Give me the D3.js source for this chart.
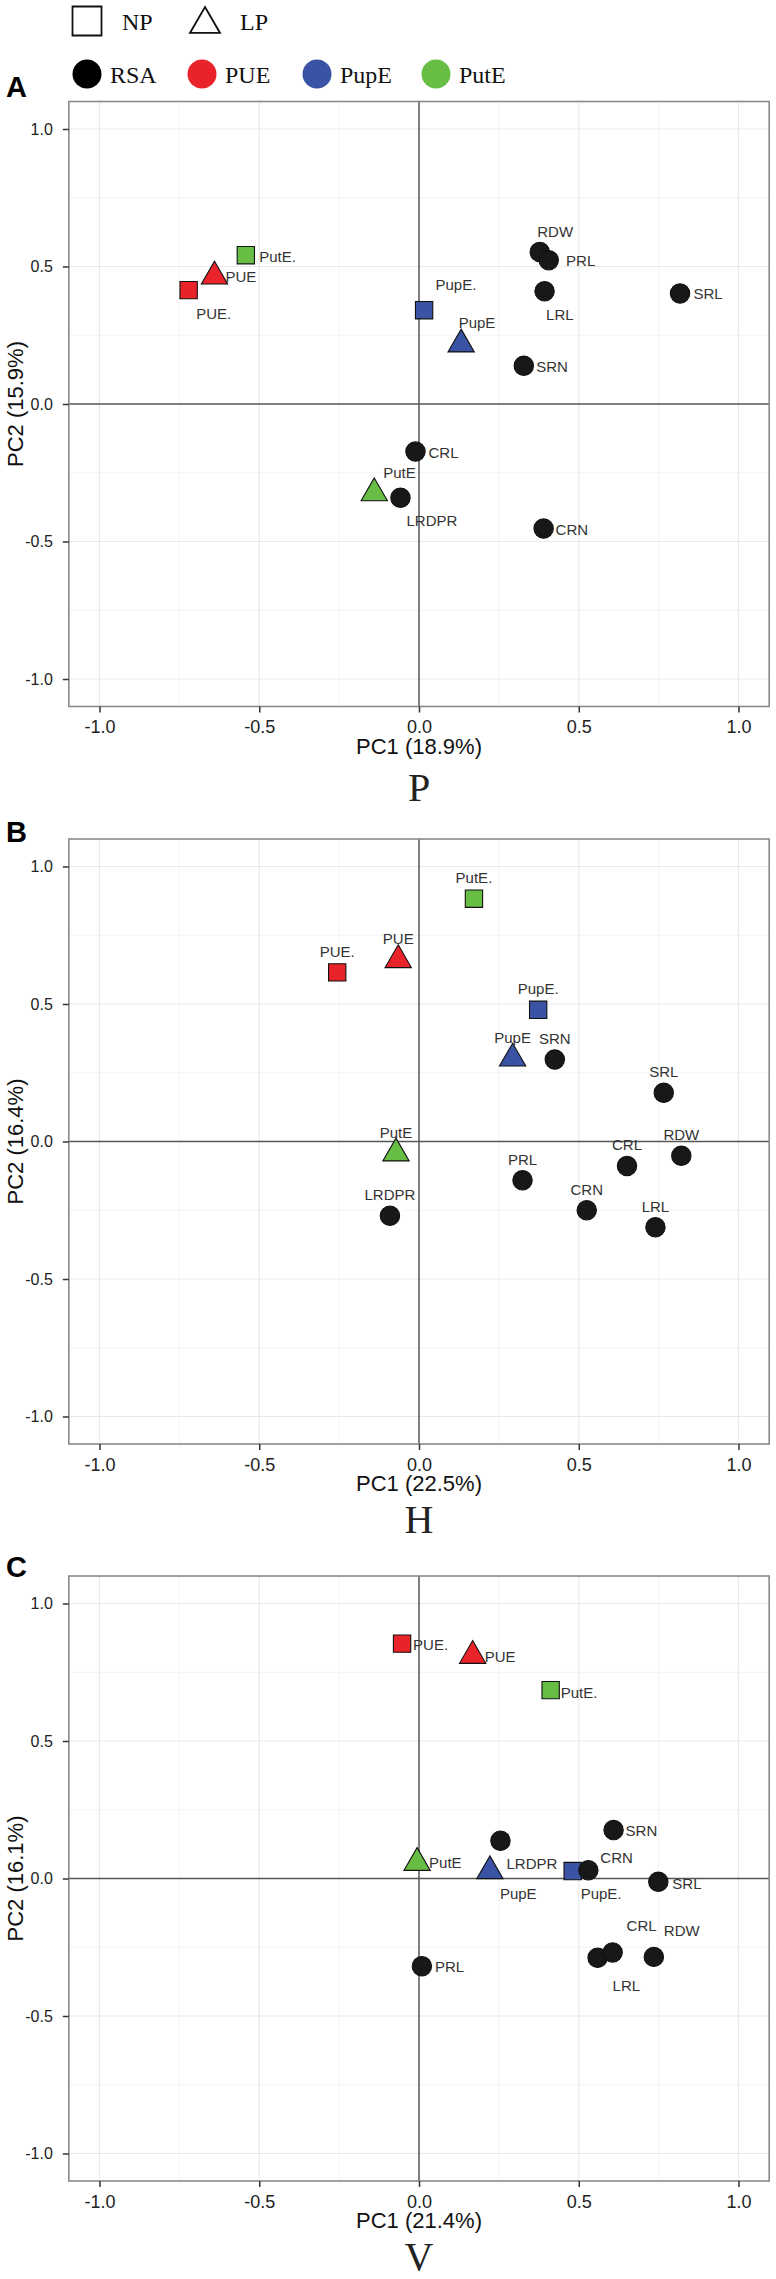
<!DOCTYPE html>
<html>
<head>
<meta charset="utf-8">
<script src="https://cdn.jsdelivr.net/npm/d3@7"></script>
<style>
  body { margin: 0; background: #fff; }
  svg text { font-family: "Liberation Sans", Arial, sans-serif; }
</style>
</head>
<body>
<div id="container"></div>
<script>
/* CONSTANTS AND GLOBALS */
const width = 776, height = 2279;

/* DATA */
// points, in drawing order (NP squares, LP triangles, RSA circles)
const pointNames = ["PUE.", "PupE.", "PutE.", "PUE", "PupE", "PutE",
  "RDW", "PRL", "LRL", "SRL", "SRN", "CRL", "CRN", "LRDPR"];
const pointGroups = ["PUE", "PupE", "PutE", "PUE", "PupE", "PutE",
  "RSA", "RSA", "RSA", "RSA", "RSA", "RSA", "RSA", "RSA"];
const pointTypes = ["NP", "NP", "NP", "LP", "LP", "LP",
  "RSA", "RSA", "RSA", "RSA", "RSA", "RSA", "RSA", "RSA"];

// panel P
const pc1P = [-0.721, 0.016, -0.542, -0.640, 0.132, -0.140, 0.378, 0.406, 0.393, 0.817, 0.328, -0.011, 0.390, -0.058];
const pc2P = [0.414, 0.341, 0.541, 0.464, 0.217, -0.324, 0.553, 0.523, 0.410, 0.402, 0.139, -0.173, -0.453, -0.341];
// panel H
const pc1H = [-0.256, 0.373, 0.172, -0.065, 0.293, -0.072, 0.821, 0.324, 0.740, 0.766, 0.425, 0.651, 0.525, -0.091];
const pc2H = [0.615, 0.479, 0.883, 0.660, 0.302, -0.043, -0.052, -0.141, -0.312, 0.177, 0.298, -0.089, -0.250, -0.270];
// panel V
const pc1V = [-0.053, 0.481, 0.412, 0.168, 0.222, -0.006, 0.735, 0.009, 0.559, 0.749, 0.609, 0.606, 0.530, 0.255];
const pc2V = [0.854, 0.027, 0.685, 0.810, 0.027, 0.057, -0.285, -0.319, -0.288, -0.012, 0.176, -0.269, 0.030, 0.137];

const panelLetters = ["A", "B", "C"];
const panelNames = ["P", "H", "V"];
const pc1Titles = ["PC1 (18.9%)", "PC1 (22.5%)", "PC1 (21.4%)"];
const pc2Titles = ["PC2 (15.9%)", "PC2 (16.4%)", "PC2 (16.1%)"];
const tickValues = [-1, -0.5, 0, 0.5, 1];
const minorValues = [-0.75, -0.25, 0.25, 0.75];

const legendTypes = ["NP", "LP"];
const legendGroups = ["RSA", "PUE", "PupE", "PutE"];

/* LAYOUT */
const panelTop = [101.5, 839, 1576];
const letterBaseline = [97, 842, 1577];
const nameOffset = [94, 89, 88.5];
const panelHeight = 605;
// label placement: [anchor, dx, dy of text centre] per point
const labelNudge = {
  P: [["start", 7.5, 23], ["start", 11.4, -26], ["start", 13.4, 1.7], ["start", 11, 0],
      ["start", -2.5, -21.7], ["start", 9, -21], ["start", -2.5, -20.7], ["start", 17.4, 0.7],
      ["start", 1.5, 23], ["start", 13.4, 0], ["start", 12.4, 1], ["start", 13, 1.3],
      ["start", 12, 0.7], ["start", 6, 22.7]],
  H: pointNames.map(() => ["middle", 0, -21]),
  V: [["start", 11, 1], ["start", 8, 23], ["start", 10, 2], ["start", 12, 1],
      ["start", 10, 23], ["start", 12, 0], ["start", 10, -26.7], ["start", 13, 0],
      ["start", 15, 28], ["start", 14, 2], ["start", 12, 0], ["start", 14, -27.3],
      ["start", 12, -13], ["start", 6, 23]]
};
const legendRow1X = [87, 205];
const legendRow2X = [87, 202, 317, 436];

/* SCALES */
const xScale = d3.scaleLinear()
  .domain([-1, 1])
  .range([99.5, 738.5]);

const colorScale = d3.scaleOrdinal()
  .domain(["RSA", "PUE", "PupE", "PutE"])
  .range(["#181818", "#e8242a", "#3a53a4", "#68bd45"]);

const shapeScale = d3.scaleOrdinal()
  .domain(["NP", "LP", "RSA"])
  .range([d3.symbolSquare, d3.symbolTriangle, d3.symbolCircle]);

const sizeScale = d3.scaleOrdinal()
  .domain(["NP", "LP", "RSA"])
  .range([300, 300, 295]);

/* HTML ELEMENTS */
const svg = d3.select("#container")
  .append("svg")
  .attr("width", width)
  .attr("height", height)
  .style("background-color", "#fff");

// legend
const legend = svg.append("g").attr("class", "legend");

legend.selectAll(".leg-shape")
  .data(legendTypes)
  .join("path")
  .attr("class", "leg-shape")
  .attr("transform", (d, i) => `translate(${legendRow1X[i]},${d === "LP" ? 24.3 : 21})`)
  .attr("d", d => d3.symbol().type(shapeScale(d)).size(d === "LP" ? 390 : 840)())
  .attr("fill", "#fff")
  .attr("stroke", "#111")
  .attr("stroke-width", 1.8);

legend.selectAll(".leg-shape-text")
  .data(legendTypes)
  .join("text")
  .attr("class", "leg-shape-text")
  .attr("x", (d, i) => legendRow1X[i] + 35)
  .attr("y", 30)
  .style("font-family", "'Liberation Serif', 'Times New Roman', serif")
  .style("font-size", "24px")
  .attr("fill", "#111")
  .text(d => d);

legend.selectAll(".leg-dot")
  .data(legendGroups)
  .join("circle")
  .attr("class", "leg-dot")
  .attr("cx", (d, i) => legendRow2X[i])
  .attr("cy", 74)
  .attr("r", 14.5)
  .attr("fill", d => d === "RSA" ? "#000" : colorScale(d));

legend.selectAll(".leg-dot-text")
  .data(legendGroups)
  .join("text")
  .attr("class", "leg-dot-text")
  .attr("x", (d, i) => legendRow2X[i] + 23)
  .attr("y", 83)
  .style("font-family", "'Liberation Serif', 'Times New Roman', serif")
  .style("font-size", "24px")
  .attr("fill", "#111")
  .text(d => d);

// panels
const panelData = [
  { key: "P", pc1: pc1P, pc2: pc2P },
  { key: "H", pc1: pc1H, pc2: pc2H },
  { key: "V", pc1: pc1V, pc2: pc2V }
];

panelData.forEach((panel, p) => {
  const top = panelTop[p];
  const yScale = d3.scaleLinear()
    .domain([-1.1, 1.1])
    .range([top + panelHeight, top]);

  const x0 = xScale(-1.096), x1 = xScale(1.096);
  const y0 = yScale(1.1), y1 = yScale(-1.1);

  const g = svg.append("g").attr("class", "panel");

  // minor grid
  g.selectAll(".minor-x")
    .data(minorValues)
    .join("line")
    .attr("x1", d => xScale(d)).attr("x2", d => xScale(d))
    .attr("y1", y0).attr("y2", y1)
    .attr("stroke", "#f4f4f4").attr("stroke-width", 1);
  g.selectAll(".minor-y")
    .data(minorValues)
    .join("line")
    .attr("x1", x0).attr("x2", x1)
    .attr("y1", d => yScale(d)).attr("y2", d => yScale(d))
    .attr("stroke", "#f4f4f4").attr("stroke-width", 1);

  // major grid
  g.selectAll(".major-x")
    .data(tickValues.filter(d => d !== 0))
    .join("line")
    .attr("x1", d => xScale(d)).attr("x2", d => xScale(d))
    .attr("y1", y0).attr("y2", y1)
    .attr("stroke", "#e9e9e9").attr("stroke-width", 1.2);
  g.selectAll(".major-y")
    .data(tickValues.filter(d => d !== 0))
    .join("line")
    .attr("x1", x0).attr("x2", x1)
    .attr("y1", d => yScale(d)).attr("y2", d => yScale(d))
    .attr("stroke", "#e9e9e9").attr("stroke-width", 1.2);

  // zero lines
  g.append("line")
    .attr("x1", xScale(0)).attr("x2", xScale(0))
    .attr("y1", y0).attr("y2", y1)
    .attr("stroke", "#555").attr("stroke-width", 1.5);
  g.append("line")
    .attr("x1", x0).attr("x2", x1)
    .attr("y1", yScale(0)).attr("y2", yScale(0))
    .attr("stroke", "#555").attr("stroke-width", 1.5);

  // border
  g.append("rect")
    .attr("x", x0).attr("y", y0)
    .attr("width", x1 - x0).attr("height", y1 - y0)
    .attr("fill", "none")
    .attr("stroke", "#8a8a8a")
    .attr("stroke-width", 1.6);

  // x axis
  const xAxis = g.append("g")
    .attr("transform", `translate(0,${y1})`)
    .call(d3.axisBottom(xScale).tickValues(tickValues).tickSize(6).tickPadding(8)
      .tickFormat(d => d.toFixed(1)));
  xAxis.select(".domain").remove();
  xAxis.selectAll("line").attr("stroke", "#333").attr("stroke-width", 1.5);
  xAxis.selectAll("text")
    .style("font-family", "'Liberation Sans', Arial, sans-serif")
    .style("font-size", "18px").attr("fill", "#222");

  // y axis
  const yAxis = g.append("g")
    .attr("transform", `translate(${x0},0)`)
    .call(d3.axisLeft(yScale).tickValues(tickValues).tickSize(6).tickPadding(10)
      .tickFormat(d => d.toFixed(1)));
  yAxis.select(".domain").remove();
  yAxis.selectAll("line").attr("stroke", "#333").attr("stroke-width", 1.5);
  yAxis.selectAll("text")
    .style("font-family", "'Liberation Sans', Arial, sans-serif")
    .style("font-size", "16px").attr("fill", "#222");

  // axis titles
  g.append("text")
    .attr("x", xScale(0))
    .attr("y", y1 + 47)
    .attr("text-anchor", "middle")
    .style("font-size", "22px")
    .attr("fill", "#111")
    .text(pc1Titles[p]);

  g.append("text")
    .attr("transform", `translate(23,${yScale(0)}) rotate(-90)`)
    .attr("text-anchor", "middle")
    .style("font-size", "22px")
    .attr("fill", "#111")
    .text(pc2Titles[p]);

  // panel name under the axis title
  g.append("text")
    .attr("x", xScale(0))
    .attr("y", y1 + nameOffset[p])
    .attr("text-anchor", "middle")
    .style("font-family", "'Liberation Serif', 'Times New Roman', serif")
    .style("font-size", "40px")
    .attr("fill", "#222")
    .text(panelNames[p]);

  // panel letter
  g.append("text")
    .attr("x", 6)
    .attr("y", letterBaseline[p])
    .style("font-size", "29px")
    .style("font-weight", "bold")
    .attr("fill", "#000")
    .text(panelLetters[p]);

  // points
  const rows = pointNames.map((name, i) => ({
    name,
    group: pointGroups[i],
    type: pointTypes[i],
    pc1: panel.pc1[i],
    pc2: panel.pc2[i],
    nudge: labelNudge[panel.key][i]
  }));

  g.selectAll(".pt")
    .data(rows)
    .join("path")
    .attr("class", "pt")
    .attr("transform", d => `translate(${xScale(d.pc1)},${yScale(d.pc2)})`)
    .attr("d", d => d3.symbol().type(shapeScale(d.type)).size(sizeScale(d.type))())
    .attr("fill", d => colorScale(d.group))
    .attr("stroke", "#111")
    .attr("stroke-width", 1.1);

  g.selectAll(".pt-label")
    .data(rows)
    .join("text")
    .attr("class", "pt-label")
    .attr("x", d => xScale(d.pc1) + d.nudge[1])
    .attr("y", d => yScale(d.pc2) + d.nudge[2] + 5.4)
    .attr("text-anchor", d => d.nudge[0])
    .style("font-size", "15px")
    .attr("fill", "#333")
    .text(d => d.name);
});
</script>
</body>
</html>
